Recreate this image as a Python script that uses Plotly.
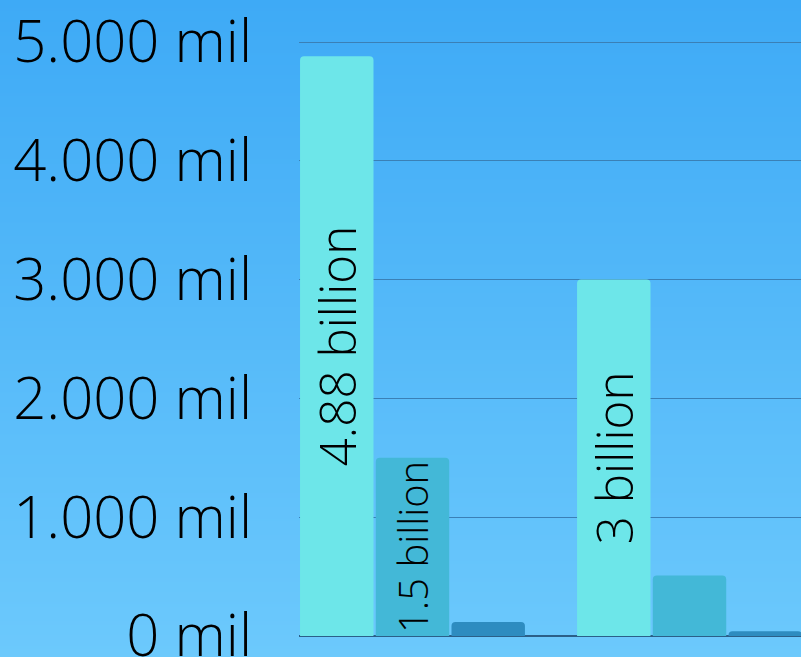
import base64
import struct
import zlib

import plotly.graph_objects as go

# ---- data ----
categories = ["Group 1", "Group 2"]
series_names = ["Series A", "Series B", "Series C"]
series_a = [4880, 3000]
series_b = [1500, 510]
series_c = [118, 40]
labels_a = ["4.88 billion", "3 billion"]
labels_b = ["1.5 billion", ""]
labels_c = ["", ""]
tick_vals = [0, 1000, 2000, 3000, 4000, 5000]
tick_text = ["0 mil", "1.000 mil", "2.000 mil", "3.000 mil", "4.000 mil", "5.000 mil"]

colors = ["#6de6e9", "#43b8d7", "#2e8cc0"]

W, H = 801, 657


# ---- vertical gradient background as a PNG data URI ----
def gradient_png(w, h, top, bottom):
    rows = b""
    for y in range(h):
        t = y / (h - 1)
        c = bytes(int(round(top[i] + (bottom[i] - top[i]) * t)) for i in range(3))
        rows += b"\x00" + c * w

    def chunk(tag, data):
        return (struct.pack(">I", len(data)) + tag + data
                + struct.pack(">I", zlib.crc32(tag + data) & 0xffffffff))

    png = b"\x89PNG\r\n\x1a\n"
    png += chunk(b"IHDR", struct.pack(">IIBBBBB", w, h, 8, 2, 0, 0, 0))
    png += chunk(b"IDAT", zlib.compress(rows, 9))
    png += chunk(b"IEND", b"")
    return "data:image/png;base64," + base64.b64encode(png).decode()


bg = gradient_png(4, H, (62, 170, 246), (108, 201, 252))

fig = go.Figure()
for name, vals, txt, col in zip(series_names, [series_a, series_b, series_c],
                                [labels_a, labels_b, labels_c], colors):
    fig.add_trace(go.Bar(
        x=categories, y=vals, name=name, text=txt,
        textposition="inside", insidetextanchor="middle", textangle=-90,
        textfont=dict(family="Open Sans", size=57, color="#000000", weight=300),
        marker=dict(color=col, line=dict(width=0), cornerradius=4),
        hoverinfo="skip",
    ))

left = 299
plot_w = W - left
zero_px = 636
px_per_unit = (636 - 42) / 5000.0
y_min = -(H - zero_px) / px_per_unit
y_max = zero_px / px_per_unit

fig.update_layout(
    width=W, height=H,
    margin=dict(l=left, r=0, t=0, b=0, pad=0, autoexpand=False),
    barmode="group", bargap=0.18, bargroupgap=0.03,
    showlegend=False,
    paper_bgcolor="#4fb5f8",
    plot_bgcolor="rgba(0,0,0,0)",
    images=[dict(source=bg, xref="paper", yref="paper",
                 x=-left / plot_w, y=1, sizex=W / plot_w, sizey=1,
                 sizing="stretch", layer="below", xanchor="left", yanchor="top")],
    xaxis=dict(range=[-0.4097, 1.4025], showticklabels=False, showgrid=False,
               zeroline=False, showline=False, ticks="", automargin=False),
    yaxis=dict(range=[y_min, y_max], tickvals=tick_vals, ticktext=tick_text,
               tickfont=dict(family="Open Sans", size=58, color="#000000", weight=300),
               showgrid=True, gridcolor="#3a80b6", gridwidth=1,
               zeroline=True, zerolinecolor="#2b5f88", zerolinewidth=1.5,
               showline=False, ticks="", ticklabelstandoff=46,
               ticklabeloverflow="allow", automargin=False),
)

fig.write_html("out.html")
